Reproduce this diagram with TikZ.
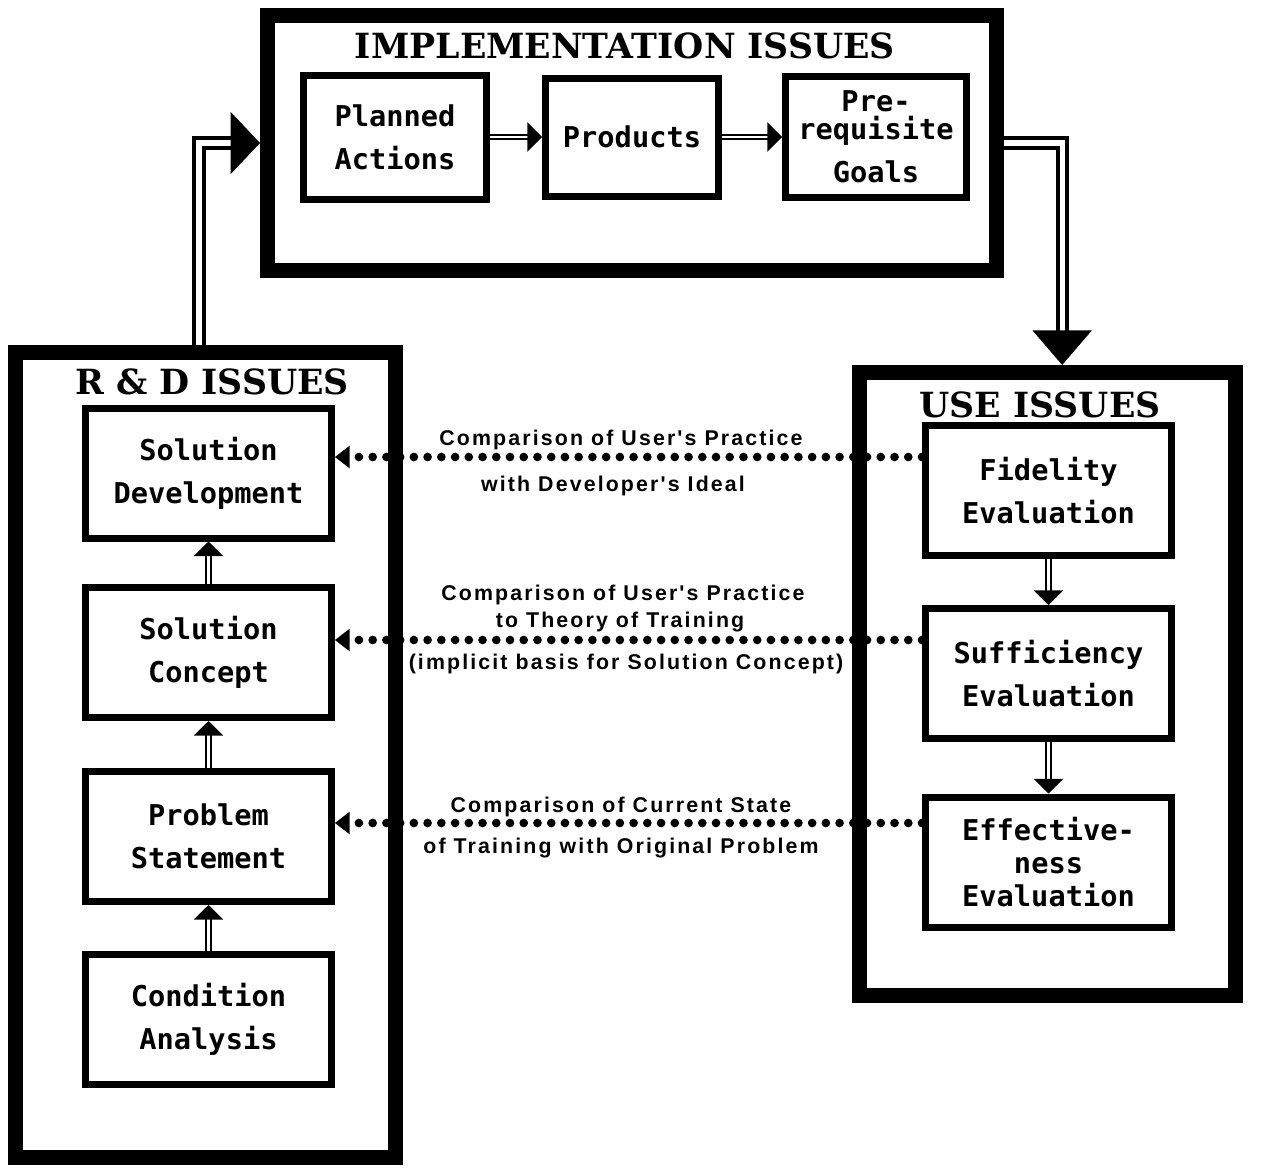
\documentclass[tikz,border=0pt]{standalone}
\usepackage{fontspec}
\usetikzlibrary{arrows.meta}
\newfontfamily\slabfont{DejaVu Serif}
\newfontfamily\boxfont{DejaVu Sans Mono}
\newfontfamily\notefont{Liberation Sans}[LetterSpace=10]

\tikzset{
  issuebox/.style={draw, line width=11.25pt, fill=white, inner sep=0pt},
  issuetitle/.style={font=\slabfont\bfseries\fontsize{26}{30}\selectfont, inner sep=0pt, anchor=base},
  stepbox/.style={draw, line width=5.25pt, fill=white, align=center, inner sep=0pt,
    font=\boxfont\bfseries\fontsize{21.5}{32}\selectfont},
  evalbox/.style={stepbox, minimum width=184.5pt, minimum height=97.5pt},
  dblarrow/.style={double, double distance=2pt, line width=1.5pt, -{Triangle[width=22pt,length=11pt]}},
  bigarrow/.style={double, double distance=4pt, line width=3pt},
  cmpline/.style={line width=6.5pt, line cap=round, dash pattern=on 0pt off 10.3pt,
    -{Triangle[width=17pt,length=11pt,line width=0pt]}},
  cmplbl/.style={font=\notefont\bfseries\fontsize{16}{20}\selectfont, inner sep=0pt, anchor=base}
}

\begin{document}
\begin{tikzpicture}[x=0.75pt,y=0.75pt,yscale=-1]
\useasboundingbox (0,0) rectangle (1288,1167);

%Shape: Rectangle
\node[issuebox, minimum width=546.75pt, minimum height=191.25pt] (impl) at (632,143) {};
%Shape: Rectangle
\node[issuebox, minimum width=285pt, minimum height=603.75pt] (rd) at (205.5,755) {};
%Shape: Rectangle
\node[issuebox, minimum width=282pt, minimum height=467.25pt] (use) at (1047.5,684) {};

% Text Node
\node[issuetitle] (impltitle) at (625,58) {IMPLEMENTATION ISSUES};
% Text Node
\node[issuetitle] (rdtitle) at (212,394) {R \& D ISSUES};
% Text Node
\node[issuetitle] (usetitle) at (1040,417) {USE ISSUES};

%Shape: Rectangle
\node[stepbox, minimum width=137.25pt, minimum height=93pt] (plan) at (395,137) {Planned\\Actions};
\node[stepbox, minimum width=129.75pt, minimum height=88.5pt] (prod) at (632,137) {Products};
\node[stepbox, minimum width=135.75pt, minimum height=90.75pt] (pre) at (876,137) {Pre-\\[-11pt]requisite\\Goals};

%Shape: Rectangle
\node[evalbox] (dev) at (208.5,473) {Solution\\Development};
\node[evalbox] (con) at (208.5,652.5) {Solution\\Concept};
\node[evalbox] (prob) at (208.5,836.5) {Problem\\Statement};
\node[evalbox] (cond) at (208.5,1019) {Condition\\Analysis};

%Shape: Rectangle
\node[evalbox] (fid) at (1048.5,490.5) {Fidelity\\Evaluation};
\node[evalbox] (suf) at (1048.5,673.5) {Sufficiency\\Evaluation};
\node[evalbox] (eff) at (1048.5,862) {Effective-\\[-7pt]ness\\[-7pt]Evaluation};

%Straight Lines
\draw[bigarrow, -{Triangle[width=46pt,length=22pt]}] ([xshift=-5pt]rd.north) |- (impl.west);
\draw[bigarrow, -{Triangle[width=44pt,length=26pt]}] (impl.east) -| ([xshift=11pt]use.north);

%Straight Lines
\draw[dblarrow] (plan.east) -- (prod.west);
\draw[dblarrow] (prod.east) -- (pre.west);
\draw[dblarrow] (con.north) -- (dev.south);
\draw[dblarrow] (prob.north) -- (con.south);
\draw[dblarrow] (cond.north) -- (prob.south);
\draw[dblarrow] (fid.south) -- (suf.north);
\draw[dblarrow] (suf.south) -- (eff.north);

% Dotted Lines
\coordinate (cmpA) at (627,457);
\coordinate (cmpB) at (627,640);
\coordinate (cmpC) at (627,823);
\draw[cmpline] (fid.west |- cmpA) -- (dev.east |- cmpA);
\draw[cmpline] (suf.west |- cmpB) -- (con.east |- cmpB);
\draw[cmpline] (eff.west |- cmpC) -- (prob.east |- cmpC);

% Text Node
\node[cmplbl] (cmpA1) at (621,445) {Comparison of User's Practice};
\node[cmplbl] (cmpA2) at (613,491) {with Developer's Ideal};
% Text Node
\node[cmplbl] (cmpB1) at (623,600) {Comparison of User's Practice};
\node[cmplbl] (cmpB2) at (620,627) {to Theory of Training};
\node[cmplbl] (cmpB3) at (626,669) {(implicit basis for Solution Concept)};
% Text Node
\node[cmplbl] (cmpC1) at (621,812) {Comparison of Current State};
\node[cmplbl] (cmpC2) at (621,853) {of Training with Original Problem};
\end{tikzpicture}
\end{document}
